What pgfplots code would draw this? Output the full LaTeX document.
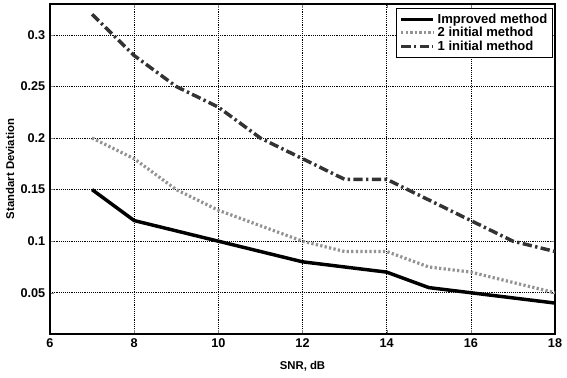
\documentclass[border=0pt]{standalone}
\usepackage{pgfplots}
\pgfplotsset{compat=1.18}
\usepackage{fontspec}
\setmainfont{Liberation Sans}
\begin{document}
\begin{tikzpicture}[x=0.75pt,y=0.75pt]
\useasboundingbox (0,0) rectangle (567,378);
\begin{axis}[
  at={(50*0.75pt,44*0.75pt)}, anchor=south west,
  scale only axis, width=505*0.75pt, height=330*0.75pt,
  xmin=6, xmax=18, ymin=0.01, ymax=0.33,
  xtick={6,8,...,18},
  ytick={0.05,0.1,0.15,0.2,0.25,0.3},
  yticklabels={0.05,0.1,0.15,0.2,0.25,0.3},
  xticklabels={6,8,10,12,14,16,18},
  tick label style={font=\bfseries\fontsize{9.5}{11}\selectfont},
  tick align=inside, major tick length=3pt,
  grid=major, major grid style={black, densely dotted, line width=0.5pt},
  axis line style={black, line width=0.8pt},
  xlabel={SNR, dB}, ylabel={Standart Deviation},
  label style={font=\bfseries\fontsize{8.5}{10}\selectfont},
  xlabel style={yshift=-3pt},
  ylabel style={yshift=-2pt},
  legend style={at={(0.996,0.988)}, anchor=north east, draw=black, line width=0.6pt,
    font=\bfseries\fontsize{9.8}{11}\selectfont, row sep=-2.5pt, inner sep=2pt,
    /tikz/every even column/.append style={column sep=2pt}},
  legend cell align=left,
  legend image code/.code={\draw[#1] (0pt,0pt) -- (24pt,0pt);},
]
\addplot[black, line width=2.6pt] coordinates {
(7,0.15) (8,0.12) (9,0.11) (10,0.10) (11,0.09) (12,0.08) (13,0.075) (14,0.07) (15,0.055) (16,0.05) (17,0.045) (18,0.04)};
\addlegendentry{Improved method}
\addplot[gray!85, line width=2.4pt, dash pattern=on 1.7pt off 1.7pt] coordinates {
(7,0.20) (8,0.18) (9,0.15) (10,0.13) (11,0.115) (12,0.10) (13,0.09) (14,0.09) (15,0.075) (16,0.07) (17,0.06) (18,0.05)};
\addlegendentry{2 initial method}
\addplot[black!80, line width=2.6pt, dash pattern=on 7pt off 2.5pt on 1.8pt off 2.5pt] coordinates {
(7,0.32) (8,0.28) (9,0.25) (10,0.23) (11,0.20) (12,0.18) (13,0.16) (14,0.16) (15,0.14) (16,0.12) (17,0.10) (18,0.09)};
\addlegendentry{1 initial method}
\end{axis}
\end{tikzpicture}
\end{document}
